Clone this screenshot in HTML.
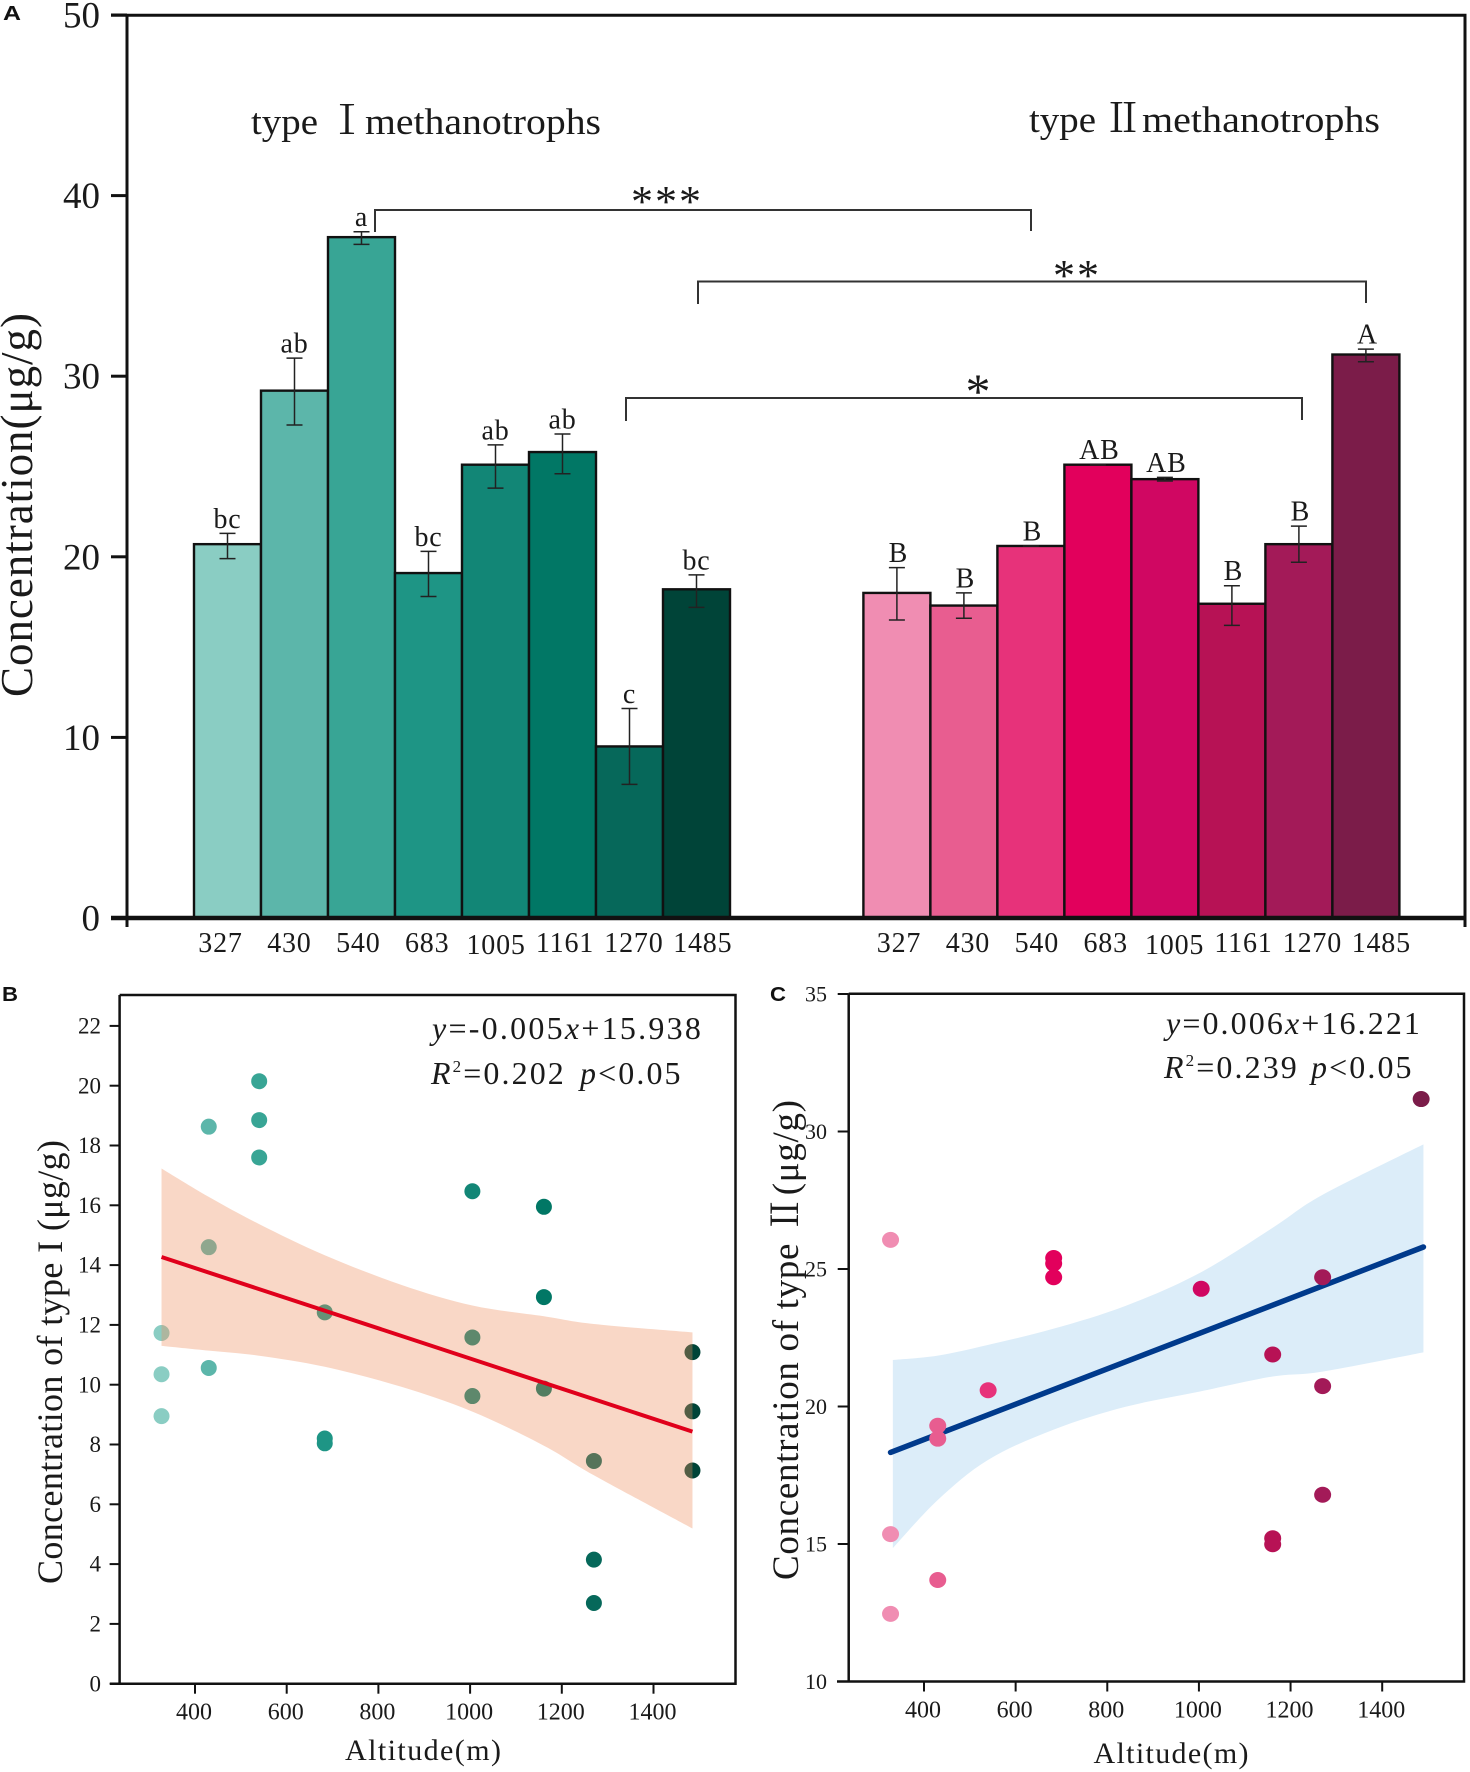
<!DOCTYPE html>
<html lang="en">
<head>
<meta charset="utf-8">
<title>Methanotroph concentration by altitude</title>
<style>
html,body{margin:0;padding:0;background:#fff;}
svg{display:block;}
text{font-family:"Liberation Serif","Noto Serif CJK SC",serif;fill:#1a1a1a;}
.panel{font-family:"Liberation Sans",sans-serif;font-weight:bold;fill:#111;}
</style>
</head>
<body>
<svg id="fig" xmlns="http://www.w3.org/2000/svg" width="1470" height="1772" viewBox="0 0 1470 1772">
  <rect width="1470" height="1772" fill="#fff"/>
  <g id="panelA"></g>
  <g id="panelB"></g>
  <g id="panelC"></g>

  <g stroke="#111" fill="none">
    <path d="M111 15.3H1465V918M127 15.3V927M1465 918V927" stroke-width="3"/>
    <path d="M111 918H1466" stroke-width="4.5"/>
  </g>
  <g stroke="#333" stroke-width="2" fill="none">
    <path d="M375 232V210H1031V231"/>
    <path d="M698 304V281.5H1366V303"/>
    <path d="M626 421V398H1302V420"/>
  </g>
  <text x="667" y="216" font-size="44" letter-spacing="2" text-anchor="middle">***</text>
  <text x="1077" y="290" font-size="44" letter-spacing="2" text-anchor="middle">**</text>
  <text x="978" y="408" font-size="50" text-anchor="middle">*</text>

  <text x="251" y="134" font-size="37" textLength="67" lengthAdjust="spacingAndGlyphs">type</text>
  <text x="327" y="134" font-size="40">Ⅰ</text>
  <text x="365" y="134" font-size="37" textLength="236" lengthAdjust="spacingAndGlyphs">methanotrophs</text>
  <text x="1029" y="132" font-size="37" textLength="67" lengthAdjust="spacingAndGlyphs">type</text>
  <text x="1103" y="132" font-size="40">Ⅱ</text>
  <text x="1142" y="132" font-size="37" textLength="238" lengthAdjust="spacingAndGlyphs">methanotrophs</text>

  <text transform="translate(32,505) rotate(-90)" font-size="45" text-anchor="middle" textLength="384">Concentration(μg/g)</text>
  <text class="panel" x="3" y="20" font-size="20" textLength="18" lengthAdjust="spacingAndGlyphs">A</text>
  <text class="panel" x="2" y="1001" font-size="20" textLength="16" lengthAdjust="spacingAndGlyphs">B</text>
  <text class="panel" x="770" y="1001" font-size="20" textLength="16" lengthAdjust="spacingAndGlyphs">C</text>

  <g fill="none" stroke="#111" stroke-width="2.5">
    <path d="M119.6 995H735.5V1683.7H110M119.6 995V1683.7"/>
  </g>
  <g fill="none" stroke="#111" stroke-width="2.5">
    <path d="M848.7 993.8H1464V1681.5H837M848.7 993.8V1681.5"/>
  </g>

  <text x="423" y="1760" font-size="30" text-anchor="middle" textLength="156">Altitude(m)</text>
  <text x="1171" y="1763" font-size="30" text-anchor="middle" textLength="155">Altitude(m)</text>
  <text transform="translate(62,1362) rotate(-90)" font-size="36" text-anchor="middle" textLength="444">Concentration of  type I (μg/g)</text>
  <text transform="translate(798,1340) rotate(-90)" font-size="37" text-anchor="middle" textLength="480">Concentration of type Ⅱ(μg/g)</text>

  <text x="432" y="1039" font-size="32" letter-spacing="2.25" fill="#333"><tspan font-style="italic">y</tspan>=-0.005<tspan font-style="italic">x</tspan>+15.938</text>
  <text x="431" y="1084" font-size="32" letter-spacing="2.1" fill="#333"><tspan font-style="italic">R</tspan><tspan font-size="17" dy="-12">2</tspan><tspan dy="12">=0.202</tspan><tspan x="580" font-style="italic">p</tspan>&lt;0.05</text>
  <text x="1166" y="1034" font-size="32" letter-spacing="2.1" fill="#333"><tspan font-style="italic">y</tspan>=0.006<tspan font-style="italic">x</tspan>+16.221</text>
  <text x="1164" y="1078" font-size="32" letter-spacing="2.1" fill="#333"><tspan font-style="italic">R</tspan><tspan font-size="17" dy="-12">2</tspan><tspan dy="12">=0.239</tspan><tspan x="1311" font-style="italic">p</tspan>&lt;0.05</text>
</svg>

<script>
// ---------- Panel A data ----------
const altitudeLabels = ['327','430','540','683','1005','1161','1270','1485'];
const yTicksA = [0,10,20,30,40,50];
const type1Values = [20.7,29.2,37.7,19.1,25.1,25.8,9.5,18.2];
const type1ErrLow = [19.9,27.3,37.3,17.8,23.8,24.6,7.4,17.2];
const type1ErrHigh = [21.3,31.0,38.0,20.3,26.2,26.8,11.6,19.0];
const type1Letters = ['bc','ab','a','bc','ab','ab','c','bc'];
const type2Values = [18.0,17.3,20.6,25.1,24.3,17.4,20.7,31.2];
const type2ErrLow = [16.5,16.6,20.6,25.1,24.2,16.2,19.7,30.8];
const type2ErrHigh = [19.4,18.0,20.6,25.1,24.4,18.4,21.7,31.5];
const type2Letters = ['B','B','B','AB','AB','B','B','A'];
const tealColors = ['#8acdc3','#5cb6aa','#38a595','#1e9585','#128676','#017765','#06685a','#004438'];
const pinkColors = ['#f08db2','#e85d90','#e7327a','#e2005c','#d00762','#b71255','#a31a58','#7b1c49'];

// ---------- Panel B data ----------
const altitudes = [327,430,540,683,1005,1161,1270,1485];
const xTicks = [400,600,800,1000,1200,1400];
const yTicksB = [0,2,4,6,8,10,12,14,16,18,20,22];
const scatterB = [
  [11.73,10.35,8.95],[18.63,14.6,10.56],[20.15,18.85,17.6],[12.42,8.2,8.04],
  [16.47,11.58,9.62],[15.95,12.93,9.87],[7.45,4.15,2.7],[11.09,9.11,7.13]
];
const bandAltB = [327,430,540,683,850,1005,1161,1270,1485];
const bandUpperB = [17.23,16.28,15.37,14.33,13.34,12.65,12.29,12.03,11.75];
const bandLowerB = [11.3,11.14,10.97,10.6,9.93,9.1,7.96,6.97,5.19];
const fitAltB = [327,1485];
const fitValB = [14.27,8.43];

// ---------- Panel C data ----------
const yTicksC = [10,15,20,25,30,35];
const scatterC = [
  [26.06,15.36,12.46],[19.3,18.83,13.69],[20.59],[25.4,25.2,24.7],
  [24.28],[21.89,15.21,14.99],[24.7,20.74,16.79],[31.18]
];
const bandAltC = [332,430,540,683,840,1001,1161,1270,1490];
const bandUpperC = [21.69,21.85,22.24,22.83,23.66,24.85,26.5,27.7,29.53];
const bandLowerC = [14.85,16.6,18.06,19.16,19.99,20.54,21.09,21.27,21.97];
const fitAltC = [327,1490];
const fitValC = [18.33,25.8];

// ---------- Axis functions ----------
const yA = v => 918 - v * 18.06;
const barLeft = (start, i) => start + i * 67;
const xB = a => 195 + (a - 400) * 0.4585;
const yB = v => 1683.7 - v * 29.9;
const xC = a => 924 + (a - 400) * 0.4582;
const yC = v => 1681.5 - (v - 10) * 27.5;

const NS = 'http://www.w3.org/2000/svg';
function make(tag, attrs, parent, content) {
  const n = document.createElementNS(NS, tag);
  for (const k in attrs) n.setAttribute(k, attrs[k]);
  if (content !== undefined) n.textContent = content;
  parent.appendChild(n);
  return n;
}
const gA = document.getElementById('panelA');
const gB = document.getElementById('panelB');
const gC = document.getElementById('panelC');

// Panel A bars, error bars, letters
function drawGroup(prefix, start, values, low, high, letters, colors, labelStart, letterShift) {
  values.forEach((v, i) => {
    const x = barLeft(start, i);
    const bar = make('rect', {x: x, y: yA(v), width: 67, height: yA(0) - yA(v), fill: colors[i], stroke: '#111', 'stroke-width': 2.4}, gA);
    
    
  });
  values.forEach((v, i) => {
    const cx = barLeft(start, i) + 33.5;
    const err = make('path', {
      d: 'M' + (cx - 8) + ' ' + yA(high[i]) + 'H' + (cx + 8) + 'M' + cx + ' ' + yA(high[i]) + 'V' + yA(low[i]) + 'M' + (cx - 8) + ' ' + yA(low[i]) + 'H' + (cx + 8),
      stroke: '#222', 'stroke-width': 1.5, fill: 'none'
    }, gA);
    
    
    const letter = make('text', {x: cx + letterShift, y: yA(high[i]) - 5.5, 'font-size': 28, 'letter-spacing': 0.8, 'text-anchor': 'middle'}, gA, letters[i]);
    
    
    const tick = make('text', {x: labelStart + i * 68.9, y: 952 + (altitudeLabels[i] === '1005' ? 2 : 0), 'font-size': 28, 'letter-spacing': 0.8, 'text-anchor': 'middle'}, gA, altitudeLabels[i]);
    
    
  });
}
drawGroup('type-1', 194, type1Values, type1ErrLow, type1ErrHigh, type1Letters, tealColors, 220.5, 0);
drawGroup('type-2', 863.4, type2Values, type2ErrLow, type2ErrHigh, type2Letters, pinkColors, 899, 1.5);

yTicksA.forEach(t => {
  const tick = make('line', {x1: 111, x2: 127, y1: yA(t), y2: yA(t), stroke: '#111', 'stroke-width': 3}, gA);
  
  
  const label = make('text', {x: 100, y: yA(t) + 12.5, 'font-size': 37, 'text-anchor': 'end'}, gA, String(t));
  
  
});

// Shared axis tick drawing for scatter panels
function drawAxes(g, prefix, xf, yf, yTicks, axisLeft, axisBottom, yLabelX, yFont, tickLen) {
  xTicks.forEach(t => {
    const tick = make('line', {x1: xf(t), x2: xf(t), y1: axisBottom, y2: axisBottom + 10, stroke: '#111', 'stroke-width': 2}, g);
    
    
    const label = make('text', {x: xf(t) - 1, y: axisBottom + 36, 'font-size': 24, 'text-anchor': 'middle'}, g, String(t));
    
    
  });
  yTicks.forEach(t => {
    const tick = make('line', {x1: axisLeft - tickLen, x2: axisLeft, y1: yf(t), y2: yf(t), stroke: '#111', 'stroke-width': 2}, g);
    
    
    const label = make('text', {x: yLabelX, y: yf(t) + yFont * 0.33, 'font-size': yFont, 'text-anchor': 'end'}, g, String(t));
    
    
  });
}
drawAxes(gB, 'panel-b', xB, yB, yTicksB, 119.6, 1683.7, 101, 23, 10);
drawAxes(gC, 'panel-c', xC, yC, yTicksC, 848.7, 1681.5, 827, 22, 11);

function drawPoints(g, prefix, series, colors, xf, yf, rx, ry) {
  series.forEach((vals, i) => {
    vals.forEach((v, j) => {
      const p = make('ellipse', {cx: xf(altitudes[i]), cy: yf(v), rx: rx, ry: ry, fill: colors[i]}, g);
      
      
    });
  });
}
// Smooth curve through the band's read-off values (Catmull-Rom to Bezier)
function splineSegments(pts) {
  let d = '';
  for (let i = 0; i < pts.length - 1; i++) {
    const p0 = pts[Math.max(i - 1, 0)], p1 = pts[i], p2 = pts[i + 1], p3 = pts[Math.min(i + 2, pts.length - 1)];
    const c1x = p1[0] + (p2[0] - p0[0]) / 6, c1y = p1[1] + (p2[1] - p0[1]) / 6;
    const c2x = p2[0] - (p3[0] - p1[0]) / 6, c2y = p2[1] - (p3[1] - p1[1]) / 6;
    d += 'C' + c1x + ' ' + c1y + ' ' + c2x + ' ' + c2y + ' ' + p2[0] + ' ' + p2[1];
  }
  return d;
}
function bandPath(alts, upper, lower, xf, yf) {
  const top = alts.map((a, i) => [xf(a), yf(upper[i])]);
  const bottom = alts.map((a, i) => [xf(a), yf(lower[i])]).reverse();
  return 'M' + top[0][0] + ' ' + top[0][1] + splineSegments(top) + 'L' + bottom[0][0] + ' ' + bottom[0][1] + splineSegments(bottom) + 'Z';
}

// Panel B: points below translucent band
drawPoints(gB, 'panel-b', scatterB, tealColors, xB, yB, 8, 8);
const bandB = make('path', {d: bandPath(bandAltB, bandUpperB, bandLowerB, xB, yB), fill: '#ee8d5c', 'fill-opacity': 0.35}, gB);


const fitB = make('line', {x1: xB(fitAltB[0]), y1: yB(fitValB[0]), x2: xB(fitAltB[1]), y2: yB(fitValB[1]), stroke: '#e0001b', 'stroke-width': 4}, gB);



// Panel C: band, line, points
const bandC = make('path', {d: bandPath(bandAltC, bandUpperC, bandLowerC, xC, yC), fill: '#dcedf9'}, gC);


const fitC = make('line', {x1: xC(fitAltC[0]), y1: yC(fitValC[0]), x2: xC(fitAltC[1]), y2: yC(fitValC[1]), stroke: '#003a8c', 'stroke-width': 5.5, 'stroke-linecap': 'round'}, gC);


drawPoints(gC, 'panel-c', scatterC, pinkColors, xC, yC, 8.5, 8);
</script>
</body>
</html>
